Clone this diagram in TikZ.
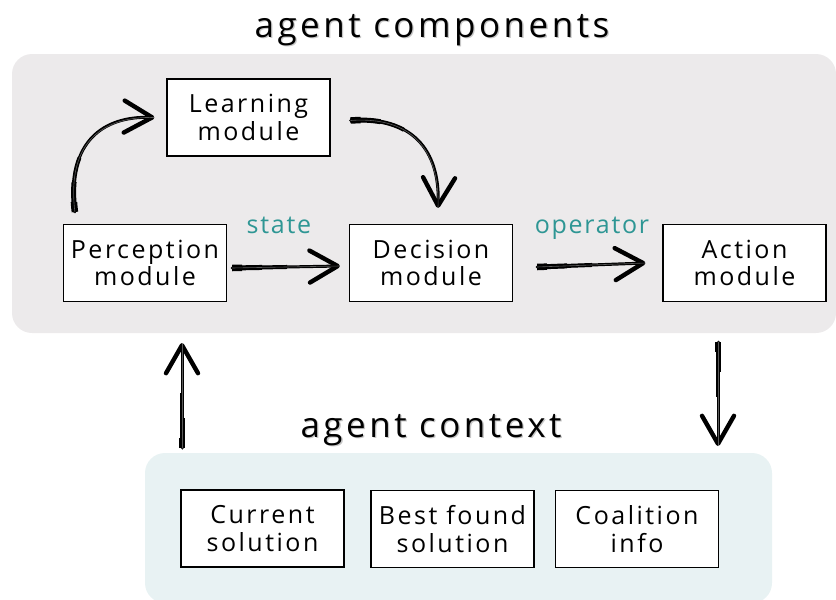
\documentclass[tikz,border=0pt]{standalone}
\usepackage{fontspec}
\setmainfont{Open Sans}[LetterSpace=8]
\usetikzlibrary{arrows.meta,calc}
\definecolor{panelgray}{HTML}{ECEAEB}
\definecolor{panelblue}{HTML}{E8F2F3}
\definecolor{tealtxt}{HTML}{2E9694}
\begin{document}
\begin{tikzpicture}[x=1pt,y=-1pt,
  modbox/.style={draw=black, line width=1.2pt, fill=white, minimum width=163pt, minimum height=77pt, align=center, inner sep=0pt, font=\fontsize{25}{27.5}\selectfont\addfontfeatures{LetterSpace=10}},
  panel/.style={rounded corners=20pt},
  brush/.style={line width=3pt, line cap=round,
    -{Straight Barb[length=28pt,width=32pt,line width=4.4pt,round]},
    preaction={draw, -, line width=6.5pt, dash pattern=on 10pt off 5000pt},
    preaction={draw, -, line width=5pt, dash pattern=on 30pt off 5000pt},
    preaction={draw, -, line width=4pt, dash pattern=on 55pt off 5000pt},
    postaction={draw=white, -, opacity=0.35, line width=0.6pt}},
  edgelabel/.style={text=tealtxt, anchor=base, font=\fontsize{25}{28}\selectfont\addfontfeatures{LetterSpace=7}},
  titletext/.style={anchor=base, font=\fontsize{35}{40}\selectfont\addfontfeatures{LetterSpace=10}},
  titleshadow/.style={titletext, text=black!22}
]
\useasboundingbox (0,0) rectangle (836,600);
% panels
\fill[panelgray, panel] (12,54) rectangle (836,333);
\fill[panelblue, panel] (145,453) rectangle (772,603);
% titles
\node[titleshadow] at (433.3,38.5) {agent components};
\node[titletext] (t1) at (432,37) {agent components};
\node[titleshadow] at (432.3,438.5) {agent context};
\node[titletext] (t2) at (431,437) {agent context};
% modules
\node[modbox] (learn) at (248.5,117.5) {Learning\\module};
\node[modbox] (perc) at (145,263) {Perception\\module};
\node[modbox] (dec) at (431,263) {Decision\\module};
\node[modbox] (act) at (744.5,263) {Action\\module};
\node[modbox] (cur) at (262.5,528.5) {Current\\solution};
\node[modbox] (best) at (452.5,529) {Best found\\solution};
\node[modbox] (coal) at (637,529) {Coalition\\info};
% labels
\node[edgelabel] (lstate) at (279,233) {state};
\node[edgelabel] (lop) at (592,233) {operator};
% arrow end points
\coordinate (ctxup) at (182,448);
\coordinate (percin) at (182,343);
\coordinate (actout) at (718,342);
\coordinate (ctxin) at (718,446);
% arrows
\draw[brush] ($(perc.north west)+(12,-12)$) .. controls (66,140) and (105,116) .. ($(learn.west)+(-12,0)$);
\draw[brush] ($(learn.east)+(20,3)$) .. controls (412,116) and (440,150) .. ($(dec.north)+(7,-16)$);
\draw[brush] ($(perc.east)+(5,5)$) -- ($(dec.west)+(-9,3)$);
\draw[brush] ($(dec.east)+(24,4)$) -- ($(act.west)+(-17,0)$);
\draw[brush] (ctxup) -- (percin);
\draw[brush] (actout) -- (ctxin);
\end{tikzpicture}
\end{document}
